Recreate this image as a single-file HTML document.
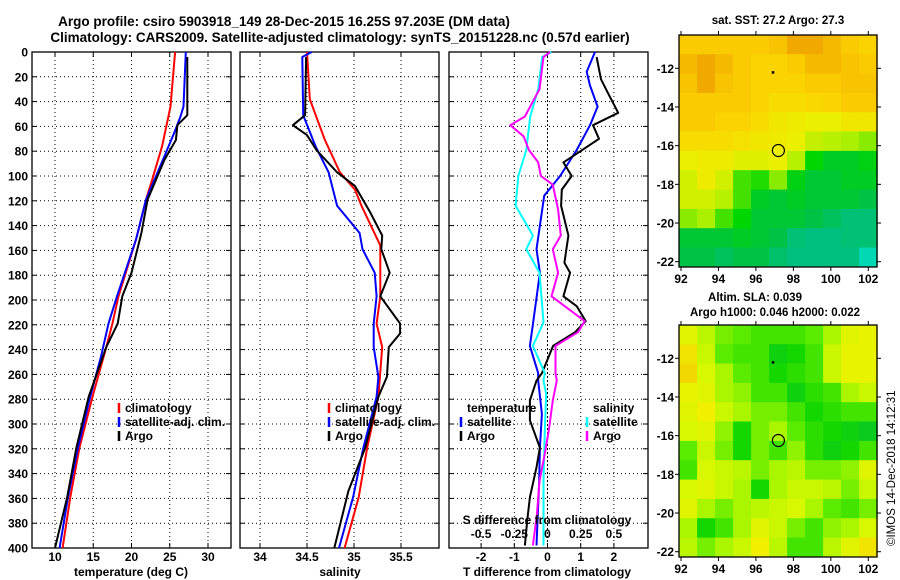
<!DOCTYPE html>
<html><head><meta charset="utf-8"><style>
html,body{margin:0;padding:0;background:#fff;}
svg{display:block;font-family:"Liberation Sans",Arial,sans-serif;font-weight:bold;}
</style></head><body>
<svg id="fig" width="900" height="580" viewBox="0 0 900 580" xmlns="http://www.w3.org/2000/svg">
<text x="284" y="26" font-size="13.5" text-anchor="middle">Argo profile: csiro 5903918_149 28-Dec-2015 16.25S 97.203E (DM data)</text>
<text x="340" y="42" font-size="13.5" text-anchor="middle">Climatology: CARS2009. Satellite-adjusted climatology: synTS_20151228.nc (0.57d earlier)</text>
<text x="778" y="24" font-size="11.5" text-anchor="middle">sat. SST: 27.2 Argo: 27.3</text>
<text x="755" y="301" font-size="11.5" text-anchor="middle">Altim. SLA: 0.039</text>
<text x="775" y="316" font-size="11.5" text-anchor="middle">Argo h1000: 0.046 h2000: 0.022</text>
<text x="0" y="0" font-size="11.5" font-weight="normal" transform="translate(895,546) rotate(-90)">©IMOS 14-Dec-2018 14:12:31</text>
<g id="g"></g>
</svg>
<script>
// ---- data ----
const depths_T_argo=[4,51,59,71,87,119,146,178,197,219,238,278,319,359,400];
const T_argo=[27.3,27.3,26.0,25.8,24.3,22.1,21.3,20.0,18.8,18.2,16.7,14.4,12.8,11.6,10.0];
const depths_T_clim=[0,44,76,103,119,151,197,219,238,278,319,359,400];
const T_clim=[25.7,25.1,24.0,22.7,21.9,20.6,18.3,17.5,16.7,14.9,13.2,12.0,11.0];
const depths_T_sat=[0,44,52,65,87,119,151,197,219,246,278,319,359,400];
const T_sat=[27.1,26.8,26.4,25.6,24.1,21.9,20.6,18.1,17.0,16.0,14.6,13.0,11.7,10.6];
const depths_S_argo=[4,51,59,67,79,97,108,129,148,159,178,197,219,227,238,262,278,319,354,400];
const S_argo=[34.49,34.48,34.35,34.50,34.60,34.82,35.01,35.17,35.30,35.29,35.38,35.28,35.49,35.49,35.37,35.35,35.26,35.12,34.94,34.79];
const depths_S_clim=[0,38,71,97,111,124,156,197,219,238,278,319,359,400];
const S_clim=[34.50,34.53,34.69,34.85,35.01,35.08,35.28,35.28,35.24,35.30,35.26,35.14,35.05,34.90];
const depths_S_sat=[0,4,51,76,97,124,146,159,178,197,219,238,262,278,319,359,400];
const S_sat=[34.55,34.45,34.46,34.59,34.73,34.82,35.06,35.09,35.22,35.24,35.21,35.21,35.26,35.24,35.10,34.99,34.84];
const depths_dT_argo=[4,22,33,49,59,70,82,89,100,111,124,148,170,178,197,205,217,226,237,259,265,281,297,319,335,359,378,398];
const dT_argo=[1.48,1.61,1.82,2.13,1.37,1.55,0.88,0.48,0.73,0.43,0.41,0.63,0.51,0.68,0.48,0.88,1.15,0.83,0.17,-0.17,-0.33,-0.53,-0.53,-0.23,-0.33,-0.53,-0.61,-0.68];
const depths_dT_sat=[0,16,27,44,59,79,100,116,140,159,178,218,237,259,265,292,319,346,398];
const dT_sat=[1.43,1.18,1.28,1.51,1.28,0.88,0.38,-0.10,-0.23,-0.33,-0.23,-0.43,-0.53,-0.28,-0.28,-0.17,-0.23,-0.25,-0.33];
const depths_dS_argo=[0,4,30,52,59,68,79,89,100,107,127,148,159,178,197,217,226,237,259,265,281,305,324,346,373,398];
const dS_argo=[0.02,-0.03,-0.06,-0.17,-0.28,-0.18,-0.14,-0.07,-0.05,0.04,0.08,0.10,0.04,0.08,0.03,0.28,0.23,0.06,0.06,0.07,0.04,0.01,-0.02,-0.06,-0.08,-0.11];
const depths_dS_sat=[0,4,30,52,79,100,124,148,159,178,218,237,259,265,276,305,346,398];
const dS_sat=[0.03,-0.04,-0.07,-0.13,-0.16,-0.22,-0.24,-0.11,-0.16,-0.06,-0.03,-0.11,-0.02,-0.03,-0.01,-0.02,-0.03,-0.03];
const depthTicks=[0,20,40,60,80,100,120,140,160,180,200,220,240,260,280,300,320,340,360,380,400];
const tempTicks=[10,15,20,25,30];
const salTicks=[34,34.5,35,35.5];
const salTickLabels=["34","34.5","35","35.5"];
const dTTicks=[-2,-1,0,1,2];
const dSTicks=[-0.5,-0.25,0,0.25,0.5];
const dSTickLabels=["-0.5","-0.25","0","0.25","0.5"];
const lonTicks=[92,94,96,98,100,102];
const latTicks=[-12,-14,-16,-18,-20,-22];
const sstGrid=[
[28,28,28,28,28,28.2,28.5,28.5,28.3,28,27.8],
[28.3,28.5,28.3,28,27.8,27.8,28,28.3,28.3,28.2,28],
[28.2,28.5,28.2,28,27.8,27.8,27.8,28,28,28.2,28.2],
[28,28,28,28,27.8,27.6,27.6,27.7,27.8,28,28],
[28,28,27.8,27.8,27.6,27.4,27.3,27.2,27.2,27.4,27.4],
[27.6,27.6,27.6,27.5,27.4,27.3,27.2,26.9,26.8,26.7,26.6],
[27.2,27.3,27.3,27.1,27.1,27.2,26.8,26.2,26,26,26.1],
[27,27.3,27,26.4,26.3,26.6,26.1,25.9,25.9,26,26],
[27,27,26.8,26.4,26,25.9,26,25.9,25.9,25.9,25.8],
[26.6,26.7,26.4,26.2,25.9,25.9,25.9,25.8,25.6,25.4,25.4],
[25.9,25.9,25.9,26,25.9,25.8,25.4,25.3,25.3,25.4,25.4],
[25.8,25.8,25.6,25.8,25.8,25.5,25.3,25.3,25.3,25.3,25.1]];
const slaGrid=[
[0.7,0.55,0.4,0.35,0.3,0.3,0.3,0.35,0.5,0.7,0.75],
[0.85,0.6,0.35,0.3,0.3,0.15,0.2,0.3,0.6,0.75,0.75],
[0.9,0.65,0.5,0.35,0.3,0.2,0.25,0.3,0.6,0.75,0.75],
[0.75,0.7,0.5,0.45,0.3,0.3,0.15,0.25,0.3,0.5,0.6],
[0.7,0.8,0.6,0.5,0.4,0.4,0.3,0.2,0.25,0.3,0.3],
[0.65,0.7,0.45,0.2,0.4,0.5,0.35,0.25,0.2,0.15,0.1],
[0.35,0.6,0.4,0.2,0.4,0.3,0.45,0.25,0.15,0.2,0.3],
[0.3,0.65,0.6,0.55,0.4,0.5,0.55,0.4,0.4,0.45,0.7],
[0.65,0.7,0.6,0.5,0.2,0.5,0.6,0.6,0.55,0.4,0.6],
[0.7,0.5,0.4,0.5,0.55,0.6,0.65,0.5,0.35,0.3,0.4],
[0.5,0.2,0.3,0.5,0.7,0.6,0.4,0.3,0.45,0.5,0.65],
[0.55,0.4,0.5,0.6,0.8,0.55,0.3,0.3,0.55,0.7,0.85]];
const argoLon=97.2, argoLat=-16.25;

// ---- helpers ----
const NS="http://www.w3.org/2000/svg";
const G=document.getElementById('g');
function mk(tag,attrs,parent){const e=document.createElementNS(NS,tag);for(const k in attrs)e.setAttribute(k,attrs[k]);(parent||G).appendChild(e);return e;}
const PT=52,PB=548;
const yD=d=>PT+(d/400)*(PB-PT);
function linX(v0,v1,p0,p1){return v=>p0+(v-v0)/(v1-v0)*(p1-p0);}
const xT=linX(10,30,55,208);
const xS=linX(34,35.5,260,401);
const xdT=linX(0,1,547.5,580.7);
const xdS=linX(0,1,547.5,680.3);

function panel(name,x0,x1,xticks,xf){
  const gp=mk('g',{});
  
  
  xticks.forEach(t=>{const l=mk('line',{x1:xf(t),x2:xf(t),y1:PT,y2:PB,stroke:'#000','stroke-width':1,'stroke-dasharray':'1,3'},gp);
    });
  depthTicks.forEach(d=>{if(d===0||d===400)return;const l=mk('line',{x1:x0,x2:x1,y1:yD(d),y2:yD(d),stroke:'#000','stroke-width':1,'stroke-dasharray':'1,3'},gp);
    
    mk('line',{x1:x0,x2:x0+5,y1:yD(d),y2:yD(d),stroke:'#000'},gp);mk('line',{x1:x1-5,x2:x1,y1:yD(d),y2:yD(d),stroke:'#000'},gp);});
  xticks.forEach(t=>{mk('line',{x1:xf(t),x2:xf(t),y1:PB-5,y2:PB,stroke:'#000'},gp);mk('line',{x1:xf(t),x2:xf(t),y1:PT,y2:PT+5,stroke:'#000'},gp);});
  const r=mk('rect',{x:x0,y:PT,width:x1-x0,height:PB-PT,fill:'none',stroke:'#000','stroke-width':1.3},gp);
  
  return gp;
}
function line(name,depths,vals,xf,color,w){
  const pts=vals.map((v,i)=>xf(v).toFixed(1)+','+yD(depths[i]).toFixed(1)).join(' ');
  const p=mk('polyline',{points:pts,fill:'none',stroke:color,'stroke-width':w||2,'stroke-linejoin':'round'});
  
  
}
function txt(name,x,y,s,size,anchor,parent){const t=mk('text',{x:x,y:y,'font-size':size||11.5,'text-anchor':anchor||'start'},parent);t.textContent=s;
  return t;}

// depth labels
depthTicks.forEach(d=>{txt('depth-tick-label',28,yD(d)+4.5,String(d),12,'end');});

// panel 1
panel('temperature-panel',32,231,tempTicks,xT);
tempTicks.forEach(t=>txt('temp-tick-label',xT(t),561,String(t),12,'middle'));
txt('temperature-axis-title',131,576,'temperature (deg C)',12,'middle');
line('temp-climatology-line',depths_T_clim,T_clim,xT,'#f00',2);
line('temp-satellite-line',depths_T_sat,T_sat,xT,'#00f',2);
line('temp-argo-line',depths_T_argo,T_argo,xT,'#000',2);

// panel 2
panel('salinity-panel',240,439,salTicks,xS);
salTicks.forEach((t,i)=>txt('sal-tick-label',xS(t),561,salTickLabels[i],12,'middle'));
txt('salinity-axis-title',340,576,'salinity',12,'middle');
line('sal-climatology-line',depths_S_clim,S_clim,xS,'#f00',2);
line('sal-satellite-line',depths_S_sat,S_sat,xS,'#00f',2);
line('sal-argo-line',depths_S_argo,S_argo,xS,'#000',2);

// panel 3
panel('difference-panel',449,648,dTTicks,xdT);
mk('line',{x1:xdT(0),x2:xdT(0),y1:PT,y2:PB,stroke:'#000','stroke-dasharray':'2,2'});
dTTicks.forEach(t=>txt('dT-tick-label',xdT(t),561,String(t),12,'middle'));
txt('dT-axis-title',547,576,'T difference from climatology',12,'middle');
line('dT-satellite-line',depths_dT_sat,dT_sat,xdT,'#00f',2);
line('dT-argo-line',depths_dT_argo,dT_argo,xdT,'#000',2);
line('dS-satellite-line',depths_dS_sat,dS_sat,xdS,'#0ff',2);
line('dS-argo-line',depths_dS_argo,dS_argo,xdS,'#f0f',2);
txt('dS-axis-title',547,524,'S difference from climatology',12,'middle');
dSTicks.forEach((t,i)=>txt('dS-tick-label',xdS(t),538,dSTickLabels[i],12,'middle'));

// legends
function legend(name,x,y,items){
  const g=mk('g',{});
  items.forEach((it,i)=>{
    if(it[1])mk('line',{x1:x,x2:x,y1:y+i*14-9,y2:y+i*14+1,stroke:it[1],'stroke-width':2.5},g);
    txt('legend-entry',x+6,y+i*14,it[0],12,'start',g);
  });
}
legend('temp-legend',119,412,[['climatology','#f00'],['satellite-adj. clim.','#00f'],['Argo','#000']]);
legend('sal-legend',329,412,[['climatology','#f00'],['satellite-adj. clim.','#00f'],['Argo','#000']]);
legend('dT-legend',461,412,[['temperature',null],['satellite','#00f'],['Argo','#000']]);
legend('dS-legend',587,412,[['salinity',null],['satellite','#0ff'],['Argo','#f0f']]);

// maps
function interp(stops,v){
  if(v<=stops[0][0])return 'rgb('+stops[0][1].join(',')+')';
  for(let i=1;i<stops.length;i++){if(v<=stops[i][0]){const a=stops[i-1],b=stops[i],f=(v-a[0])/(b[0]-a[0]);
    return 'rgb('+a[1].map((c,k)=>Math.round(c+(b[1][k]-c)*f)).join(',')+')';}}
  return 'rgb('+stops[stops.length-1][1].join(',')+')';
}
const sstStops=[[24.8,[0,255,255]],[25.3,[0,192,128]],[25.8,[0,195,70]],[26.2,[0,215,0]],[26.7,[170,240,0]],[27.2,[235,240,0]],[27.7,[250,215,0]],[28.2,[248,195,0]],[28.6,[238,160,0]]];
const slaStops=[[0,[0,190,60]],[0.2,[20,215,0]],[0.35,[90,235,0]],[0.5,[170,245,0]],[0.65,[215,248,0]],[0.8,[240,240,0]],[1,[240,192,0]]];
function mapPanel(name,grid,stops,top){
  const L=679,R=877,T=top,B=top+232;
  const lonX=linX(92,102,681,868.3);
  const latY=linX(-12,-22,T+33.3,T+226.7);
  const g=mk('g',{});
  const lon0=91.9,lon1=102.47,lat0=-10.27,nC=grid[0].length,dl=(lon1-lon0)/nC;
  grid.forEach((row,i)=>row.forEach((v,j)=>{
    const x=lonX(lon0+j*dl),x2=lonX(lon0+(j+1)*dl),y=latY(lat0-i),y2=Math.min(latY(lat0-i-1),B);
    const r=mk('rect',{x:x.toFixed(1),y:y.toFixed(1),width:(x2-x+0.6).toFixed(1),height:(y2-y+0.6).toFixed(1),fill:interp(stops,v)},g);
    
  }));
  const fr=mk('rect',{x:L,y:T,width:R-L,height:B-T,fill:'none',stroke:'#000','stroke-width':1.3},g);
  
  lonTicks.forEach(t=>{mk('line',{x1:lonX(t),x2:lonX(t),y1:T-4,y2:T,stroke:'#000'},g);mk('line',{x1:lonX(t),x2:lonX(t),y1:B,y2:B+4,stroke:'#000'},g);
    txt('lon-tick-label',lonX(t),B+16,String(t),12,'middle',g);});
  latTicks.forEach(t=>{mk('line',{x1:L-4,x2:L,y1:latY(t),y2:latY(t),stroke:'#000'},g);mk('line',{x1:R,x2:R+4,y1:latY(t),y2:latY(t),stroke:'#000'},g);
    txt('lat-tick-label',L-5,latY(t)+4.5,String(t),12,'end',g);});
  const c=mk('circle',{cx:lonX(argoLon),cy:latY(argoLat),r:6,fill:'none',stroke:'#000','stroke-width':1.2},g);
  
  mk('rect',{x:lonX(96.9)-1,y:latY(-12.2)-1,width:2.5,height:2.5,fill:'#000'},g);
}
mapPanel('sst-map',sstGrid,sstStops,35);
mapPanel('sla-map',slaGrid,slaStops,325);
</script>
</body></html>
